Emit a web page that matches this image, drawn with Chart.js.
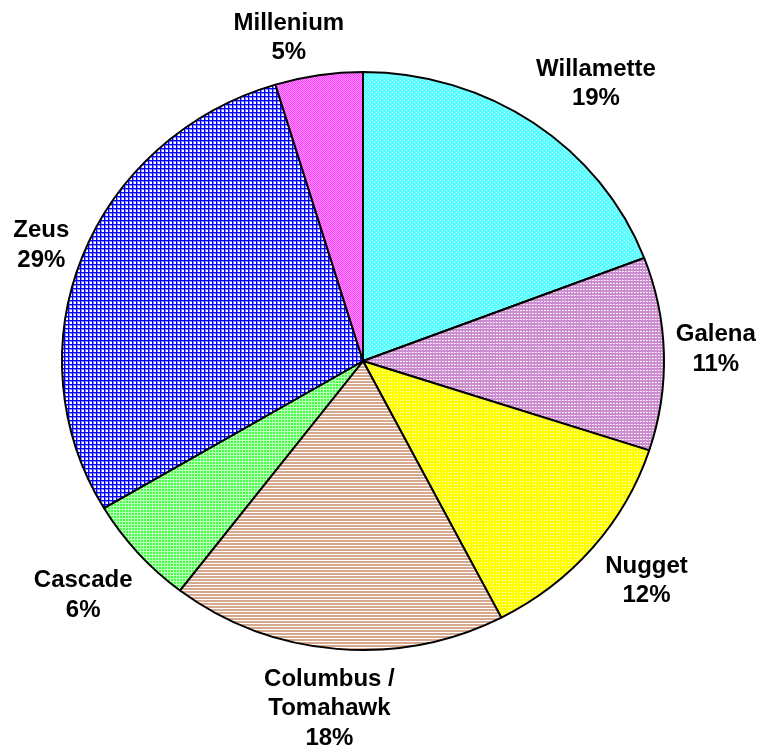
<!DOCTYPE html>
<html>
<head>
<meta charset="utf-8">
<script src="https://cdn.jsdelivr.net/npm/chart.js@4.4.0/dist/chart.umd.min.js"></script>
<style>
  html, body { margin: 0; padding: 0; background: #fff; }
  #wrap { width: 759px; height: 750px; position: relative; }
</style>
</head>
<body>
<div id="wrap"><canvas id="graficoLupulo"></canvas></div>
<script>
// dados
var categorias = [['Willamette'], ['Galena'], ['Nugget'], ['Columbus /', 'Tomahawk'], ['Cascade'], ['Zeus'], ['Millenium']];
var valores = [19.2, 10.8, 12.4, 18.0, 6.1, 28.8, 4.7];

var achatamento = 0.96; // a pizza do original e levemente oval

// padroes de preenchimento (tipo hachura do Excel)
function padrao(tam, desenha) {
    var c = document.createElement('canvas');
    c.width = tam; c.height = tam;
    var g = c.getContext('2d');
    desenha(g);
    return document.createElement('canvas').getContext('2d').createPattern(c, 'repeat');
}
function px(g, cor, x, y, w, h) { g.fillStyle = cor; g.fillRect(x, y, w || 1, h || 1); }

var pWillamette = padrao(4, function (g) {
    px(g, '#5CFFFF', 0, 0, 4, 4);
    px(g, '#C8FFFF', 0, 0); px(g, '#C8FFFF', 2, 2);
});
var pGalena = padrao(3, function (g) {
    px(g, '#CC8CD0', 0, 0, 3, 3);
    px(g, '#FFFFFF', 1, 1); px(g, '#EED4EE', 2, 1);
});
var pNugget = padrao(3, function (g) {
    px(g, '#FFFF00', 0, 0, 3, 3);
    px(g, '#FFFFFF', 1, 1);
});
var pColumbus = padrao(3, function (g) {
    px(g, '#D6A88E', 0, 0, 3, 2);
    px(g, '#FFFFFF', 0, 2, 3, 1);
});
var pCascade = padrao(3, function (g) {
    px(g, '#44FF44', 0, 0, 3, 3);
    px(g, '#BCFFBC', 0, 2, 3, 1);
    px(g, '#BCFFBC', 2, 0, 1, 3);
});
var pZeus = padrao(4, function (g) {
    px(g, '#FFFFFF', 0, 0, 4, 4);
    px(g, '#8C8CFF', 0, 0, 4, 2);
    px(g, '#8C8CFF', 0, 0, 2, 4);
    px(g, '#0000FF', 0, 0, 4, 1);
    px(g, '#0000FF', 0, 0, 1, 4);
});
var pMillenium = padrao(2, function (g) {
    px(g, '#FF40FF', 0, 0, 2, 2);
    px(g, '#FF90FF', 1, 0); px(g, '#FF90FF', 0, 1);
});
var preenchimentos = [pWillamette, pGalena, pNugget, pColumbus, pCascade, pZeus, pMillenium];

// achata a pizza na vertical (padroes compensados para nao distorcer)
var oval = {
    id: 'oval',
    beforeDatasetsDraw: function (chart) {
        var arco = chart.getDatasetMeta(0).data[0];
        var ctx = chart.ctx;
        var t = -(1 - achatamento) * arco.y / achatamento;
        preenchimentos.forEach(function (p) {
            p.setTransform(new DOMMatrix([1, 0, 0, 1 / achatamento, 0, t]));
        });
        ctx.save();
        ctx.translate(arco.x, arco.y);
        ctx.scale(1, achatamento);
        ctx.translate(-arco.x, -arco.y);
    },
    afterDatasetsDraw: function (chart) {
        chart.ctx.restore();
    }
};

// rotulos fora da pizza
var rotulosExternos = {
    id: 'rotulosExternos',
    afterDraw: function (chart) {
        var ctx = chart.ctx;
        var meta = chart.getDatasetMeta(0);
        var total = valores.reduce(function (a, b) { return a + b; }, 0);
        var altLinha = 29.5;
        ctx.save();
        ctx.font = 'bold 24px "Liberation Sans", Arial, sans-serif';
        ctx.fillStyle = '#000';
        ctx.textAlign = 'center';
        ctx.textBaseline = 'middle';
        meta.data.forEach(function (arco, i) {
            var linhas = categorias[i].concat([Math.round(valores[i] / total * 100) + '%']);
            var larg = 0;
            linhas.forEach(function (l) { larg = Math.max(larg, ctx.measureText(l).width); });
            var alt = linhas.length * altLinha;
            var meio = (arco.startAngle + arco.endAngle) / 2 - Math.PI / 180;
            var dx = Math.cos(meio), dy = Math.sin(meio);
            var folga = 12;
            var fx = Math.max(-1, Math.min(1, dx * 2.5));
            var fy = Math.max(-1, Math.min(1, dy * 1.4));
            var cx = arco.x + dx * (arco.outerRadius + folga) + fx * larg / 2;
            var cy = arco.y + dy * (arco.outerRadius * achatamento + folga) + fy * alt / 2 + 3;
            linhas.forEach(function (l, k) {
                ctx.fillText(l, cx, cy - alt / 2 + altLinha * (k + 0.5));
            });
        });
        ctx.restore();
    }
};

var ctxPizza = document.getElementById('graficoLupulo').getContext('2d');

var graficoPizza = new Chart(ctxPizza, {
    type: 'pie',
    data: {
        labels: categorias.map(function (c) { return c.join(' '); }),
        datasets: [
            {
                data: valores,
                backgroundColor: preenchimentos,
                borderColor: '#000000',
                borderWidth: 2,
                hoverOffset: 0
            }
        ]
    },
    options: {
        responsive: true,
        maintainAspectRatio: false,
        animation: false,
        layout: {
            padding: { left: 61, right: 94, top: 59, bottom: 87 }
        },
        plugins: {
            legend: { display: false },
            tooltip: { enabled: false }
        }
    },
    plugins: [oval, rotulosExternos]
});
</script>
</body>
</html>
